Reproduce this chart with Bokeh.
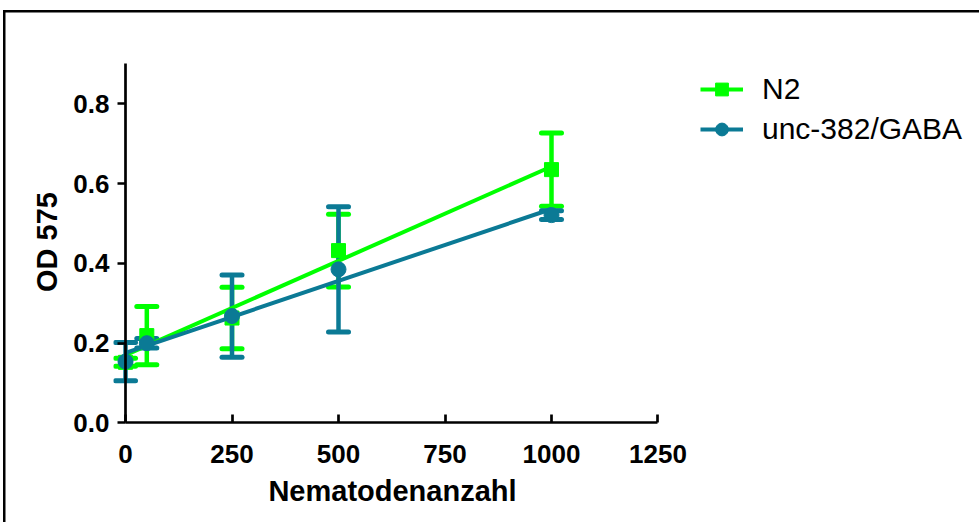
import numpy as np
from bokeh.plotting import figure
from bokeh.models import (ColumnDataSource, Whisker, Range1d, FixedTicker, Legend,
                          LegendItem, TeeHead, NumeralTickFormatter, LinearAxis)
from bokeh.embed import file_html
from bokeh.resources import INLINE

# Nematode count vs. optical density at 575 nm (mean +/- error)
nematodes = [0, 50, 250, 500, 1000]
n2_od = [0.152, 0.219, 0.263, 0.432, 0.635]
n2_err = [0.010, 0.073, 0.077, 0.091, 0.092]
unc_od = [0.154, 0.200, 0.268, 0.385, 0.521]
unc_err = [0.048, 0.012, 0.103, 0.157, 0.011]

x_ticks = [0, 250, 500, 750, 1000, 1250]
y_ticks = [0.0, 0.2, 0.4, 0.6, 0.8]

GREEN = "#00FF00"
TEAL = "#0B7A95"
FONT = "Liberation Sans"

p = figure(
    frame_width=558, frame_height=397,
    x_range=Range1d(-28.2, 1281.7), y_range=Range1d(-0.0439, 0.9511),
    output_backend="svg", toolbar_location=None,
    x_axis_location=None, y_axis_location=None,
    min_border_left=113, min_border_top=43, min_border_bottom=82, min_border_right=308,
)
# black rule along the top and left of the graphic (white inner shadow masks the corner)
p.styles = {
    "box-shadow": "inset 3px 10px 0 0 white, inset 5.5px 12.5px 0 0 black",
}
p.grid.visible = False
p.outline_line_color = None
p.background_fill_color = "white"
p.border_fill_color = None

# axis lines and ticks, pinned to the zero lines
x_line = LinearAxis(fixed_location=0, bounds=(0, 1250), ticker=FixedTicker(ticks=x_ticks))
y_line = LinearAxis(fixed_location=0, bounds=(0, 0.9), ticker=FixedTicker(ticks=y_ticks))
for ax in (x_line, y_line):
    ax.axis_line_width = 2.7
    ax.axis_line_color = "black"
    ax.major_tick_line_width = 2.7
    ax.major_tick_in = 0
    ax.major_tick_out = 8
    ax.minor_tick_line_color = None
    ax.major_label_text_font_size = "0px"
    ax.major_label_text_alpha = 0
p.add_layout(x_line, "above")
p.add_layout(y_line, "left")

# tick labels and titles on the frame edges
x_lab = LinearAxis(ticker=FixedTicker(ticks=x_ticks), axis_label="Nematodenanzahl")
y_lab = LinearAxis(ticker=FixedTicker(ticks=y_ticks), axis_label="OD 575",
                   formatter=NumeralTickFormatter(format="0.0"))
for ax in (x_lab, y_lab):
    ax.axis_line_color = None
    ax.major_tick_line_color = None
    ax.minor_tick_line_color = None
    ax.major_tick_in = 0
    ax.major_tick_out = 0
    ax.minor_tick_out = 0
    ax.major_label_text_font = FONT
    ax.major_label_text_font_style = "bold"
    ax.major_label_text_font_size = "26px"
    ax.major_label_text_color = "black"
    ax.axis_label_text_font = FONT
    ax.axis_label_text_font_style = "bold"
    ax.axis_label_text_font_size = "29px"
    ax.axis_label_text_color = "black"
x_lab.major_label_standoff = 4
y_lab.major_label_standoff = 4
x_lab.axis_label_standoff = 9
y_lab.axis_label_standoff = 7
p.add_layout(x_lab, "below")
p.add_layout(y_lab, "left")


def linear_fit(xs, ys):
    k, b = np.polyfit(xs, ys, 1)
    fx = [min(xs), max(xs)]
    return fx, [b + k * v for v in fx]


def add_series(means, errs, color, marker, size):
    src = ColumnDataSource(dict(
        x=nematodes, y=means,
        lo=[m - e for m, e in zip(means, errs)],
        hi=[m + e for m, e in zip(means, errs)],
    ))
    w = Whisker(
        source=src, base="x", lower="lo", upper="hi", dimension="height",
        line_color=color, line_width=4.5,
        upper_head=TeeHead(size=20, line_color=color, line_width=5, line_cap="round"),
        lower_head=TeeHead(size=20, line_color=color, line_width=5, line_cap="round"),
    )
    p.add_layout(w)
    fx, fy = linear_fit(nematodes, means)
    line = p.line(fx, fy, line_color=color, line_width=4)
    pts = p.scatter("x", "y", source=src, marker=marker, size=size,
                    fill_color=color, line_color=color)
    return line, pts


n2_line, n2_pts = add_series(n2_od, n2_err, GREEN, "square", 14)
unc_line, unc_pts = add_series(unc_od, unc_err, TEAL, "circle", 15)

legend = Legend(
    items=[LegendItem(label="N2", renderers=[n2_line, n2_pts]),
           LegendItem(label="unc-382/GABA", renderers=[unc_line, unc_pts])],
    location=(29, 294), margin=0, padding=0,
    glyph_width=43, glyph_height=32, label_standoff=19, spacing=6,
    label_text_font=FONT, label_text_font_size="30px", label_text_color="black",
    border_line_color=None, background_fill_alpha=0,
)
p.add_layout(legend, "right")

open("out.html", "w").write(file_html(p, INLINE))
